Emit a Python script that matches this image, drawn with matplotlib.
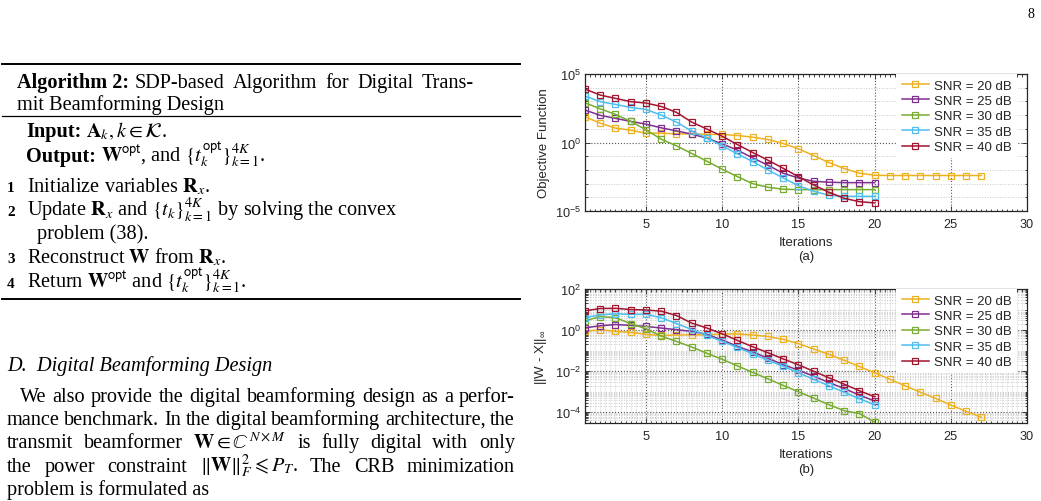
import numpy as np
import matplotlib
matplotlib.use('Agg')
import matplotlib.pyplot as plt
from matplotlib.ticker import FixedLocator, NullFormatter, MultipleLocator, LogFormatterSciNotation

W, H = 1041, 502

plt.rcParams['font.family'] = 'Liberation Sans'
plt.rcParams['mathtext.fontset'] = 'custom'
plt.rcParams['mathtext.rm'] = 'Liberation Sans'
plt.rcParams['mathtext.it'] = 'Liberation Sans:italic'
plt.rcParams['mathtext.bf'] = 'Liberation Sans:bold'

# ---- data (stored as log10) ----
iters_long = list(range(1, 28))
iters = list(range(1, 21))
snr_labels = ['SNR = 20 dB', 'SNR = 25 dB', 'SNR = 30 dB', 'SNR = 35 dB', 'SNR = 40 dB']
colors = ['#EDB120', '#7E2F8E', '#77AC30', '#4DBEEE', '#A2142F']

# (a) objective function
obj_snr20 = [1.88, 1.41, 1.05, 0.90, 0.68, 0.68, 0.63, 0.63, 0.59, 0.59, 0.51, 0.39, 0.22, -0.07,
             -0.46, -0.95, -1.46, -1.90, -2.24, -2.39, -2.41, -2.41, -2.41, -2.41, -2.41, -2.41, -2.41]
obj_snr25 = [2.37, 1.98, 1.76, 1.54, 1.34, 1.07, 0.85, 0.61, 0.32, -0.10, -0.56, -1.12, -1.66, -2.24,
             -2.59, -2.83, -2.90, -2.93, -2.93, -2.93]
obj_snr30 = [2.90, 2.46, 2.05, 1.54, 0.93, 0.24, -0.24, -0.80, -1.37, -1.95, -2.49, -3.00, -3.27, -3.41,
             -3.44, -3.44, -3.44, -3.44, -3.44, -3.44]
obj_snr35 = [3.39, 2.98, 2.78, 2.56, 2.41, 2.00, 1.49, 0.83, 0.32, -0.24, -0.83, -1.39, -2.00, -2.59,
             -3.15, -3.56, -3.85, -3.93, -3.93, -3.93]
obj_snr40 = [3.90, 3.46, 3.22, 2.98, 2.88, 2.63, 2.20, 1.49, 0.98, 0.46, -0.15, -0.73, -1.29, -1.88,
             -2.49, -3.10, -3.63, -4.07, -4.32, -4.41]

# (b) ||W - X||_inf
wx_snr20 = [-0.06, 0.02, -0.06, -0.11, -0.21, -0.26, -0.24, -0.23, -0.24, -0.19, -0.19, -0.24, -0.31, -0.45,
            -0.66, -0.92, -1.18, -1.47, -1.77, -2.08, -2.39, -2.71, -3.02, -3.32, -3.65, -3.95, -4.24]
wx_snr25 = [0.11, 0.21, 0.27, 0.23, 0.18, 0.10, 0.02, -0.06, -0.21, -0.48, -0.79, -1.06, -1.37, -1.68,
            -1.95, -2.24, -2.55, -2.84, -3.16, -3.45]
wx_snr30 = [0.45, 0.66, 0.60, 0.32, 0.06, -0.29, -0.55, -0.82, -1.13, -1.42, -1.74, -2.06, -2.37, -2.69,
            -3.00, -3.31, -3.63, -3.92, -4.06, -4.47]
wx_snr35 = [0.61, 0.74, 0.79, 0.77, 0.77, 0.60, 0.32, 0.03, -0.26, -0.55, -0.84, -1.16, -1.47, -1.76,
            -2.08, -2.39, -2.71, -3.02, -3.34, -3.63]
wx_snr40 = [0.94, 1.05, 1.06, 1.00, 0.98, 0.92, 0.71, 0.34, 0.10, -0.18, -0.50, -0.81, -1.10, -1.40,
            -1.69, -2.00, -2.32, -2.63, -2.95, -3.24]

xticks = [5, 10, 15, 20, 25, 30]

fig = plt.figure(figsize=(W / 100, H / 100), dpi=100)
fig.patch.set_facecolor('white')
dark = '#262626'


def px(x, y):
    return x / W, 1 - y / H


def draw_panel(rect, series, ylim, major, minor, ylabel, ylab_x, caption, cap_y, xgrid_minor):
    ax = fig.add_axes(rect)
    xs_list = [iters_long, iters, iters, iters, iters]
    for xs, ys, c, lab in zip(xs_list, series, colors, snr_labels):
        ax.plot(xs, 10.0 ** np.array(ys), color=c, lw=1.1, marker='s', ms=3.9,
                mfc='none', mew=0.9, label=lab)
    ax.set_yscale('log')
    ax.set_xlim(1, 30)
    ax.set_ylim(*ylim)
    ax.xaxis.set_major_locator(FixedLocator(xticks))
    ax.xaxis.set_minor_locator(MultipleLocator(1 / 3))
    ax.yaxis.set_major_locator(FixedLocator(major))
    ax.yaxis.set_major_formatter(LogFormatterSciNotation())
    ax.yaxis.set_minor_locator(FixedLocator(minor))
    ax.yaxis.set_minor_formatter(NullFormatter())
    ax.tick_params(which='both', direction='in', top=True, right=True, colors=dark,
                   labelsize=9.2, width=0.6)
    ax.tick_params(which='major', length=3.5)
    ax.tick_params(which='minor', length=1.8)
    ax.tick_params(axis='x', pad=5)
    ax.tick_params(axis='y', pad=3)
    for s in ax.spines.values():
        s.set_color(dark)
        s.set_linewidth(0.9)
    ax.grid(True, which='major', ls=':', lw=0.8, color='#555555')
    ax.grid(True, which='minor', axis='y', ls=':', lw=0.7, color='#c8c8c8')
    if xgrid_minor:
        ax.grid(True, which='minor', axis='x', ls='-', lw=0.5, color='#e4e4e4')
    ax.set_axisbelow(True)
    ax.set_xlabel('Iterations', fontsize=9.5, color=dark)
    ax.set_ylabel(ylabel, fontsize=9.5, color=dark)
    ax.xaxis.set_label_coords(0.5, -25.5 / (rect[3] * H))
    ax.yaxis.set_label_coords(ylab_x, 0.5)
    leg = ax.legend(loc='upper right', bbox_to_anchor=(1 - 10 / 442, 1), borderaxespad=0,
                    fontsize=9.5, frameon=True, fancybox=False, handlelength=2.05,
                    handletextpad=0.4, labelspacing=0.24, borderpad=0.4)
    leg.get_frame().set_edgecolor('none')
    leg.get_frame().set_facecolor('white')
    leg.get_frame().set_alpha(1)
    for t in leg.get_texts():
        t.set_color(dark)
    fig.text(*px(806, cap_y), caption, ha='center', va='center', fontsize=9.5, color=dark)
    return ax


a_minor = [10.0 ** k for k in range(-4, 5) if k != 0]
draw_panel([585 / W, 1 - 212 / H, 442 / W, 137 / H],
           [obj_snr20, obj_snr25, obj_snr30, obj_snr35, obj_snr40],
           (1e-5, 1e5), [1e-5, 1e0, 1e5], a_minor, 'Objective Function', -0.080, '(a)', 257, False)

b_minor = [m * 10.0 ** k for k in range(-5, 2) for m in range(1, 10)
           if not (m == 1 and k % 2 == 0)]
draw_panel([585 / W, 1 - 424 / H, 442 / W, 134 / H],
           [wx_snr20, wx_snr25, wx_snr30, wx_snr35, wx_snr40],
           (10 ** -4.52, 1e2), [1e-4, 1e-2, 1e0, 1e2], b_minor,
           r'||W - X||$_\infty$', -0.082, '(b)', 470, True)

# ---- left column text ----
FS = 14.6
serif = dict(family='Liberation Serif', fontsize=FS, math_fontfamily='stix', color='black')
renderer = fig.canvas.get_renderer()


def put(x, y, s, **kw):
    opts = dict(serif)
    opts.update(kw)
    return fig.text(*px(x, y), s, ha='left', va='baseline', **opts)


def justify(x0, x1, y, words):
    texts = [put(x0, y, w) for w in words]
    widths = [t.get_window_extent(renderer).width for t in texts]
    gap = (x1 - x0 - sum(widths)) / (len(words) - 1)
    x = x0
    for t, w in zip(texts, widths):
        t.set_x(x / W)
        x += w + gap


def put_run(x, y, head, rest, gap=5):
    t = put(x, y, head, weight='bold')
    x += t.get_window_extent(renderer).width + gap
    put(x, y, rest)
    return x


fig.text(*px(1034, 18), '8', ha='right', va='baseline', family='Liberation Serif', fontsize=10)

fig.add_artist(plt.Line2D([2 / W, 520 / W], [1 - 65 / H] * 2, color='black', lw=1.4))
fig.add_artist(plt.Line2D([2 / W, 520 / W], [1 - 117 / H] * 2, color='black', lw=0.9))
fig.add_artist(plt.Line2D([2 / W, 520 / W], [1 - 300 / H] * 2, color='black', lw=1.4))

head = put(17, 88, 'Algorithm 2:', weight='bold')
x_rest = 17 + head.get_window_extent(renderer).width + 6
justify(x_rest, 474, 88, ['SDP-based', 'Algorithm', 'for', 'Digital', 'Trans-'])
put(17, 110, 'mit Beamforming Design')
put_run(26, 137, 'Input:', r'$\mathbf{A}_k, k \in \mathcal{K}$.')
put_run(26, 162, 'Output:',
        r'$\mathbf{W}^{\mathrm{\mathsf{opt}}}$, and $\{t_k^{\mathrm{\mathsf{opt}}}\}_{k=1}^{4K}$.')

steps = [
    ('1', 192, 27, r'Initialize variables $\mathbf{R}_x$.'),
    ('2', 216, 27, r'Update $\mathbf{R}_x$ and $\{t_k\}_{k=1}^{4K}$ by solving the convex'),
    ('', 239, 37, 'problem (38).'),
    ('3', 263, 27, r'Reconstruct $\mathbf{W}$ from $\mathbf{R}_x$.'),
    ('4', 288, 27, r'Return $\mathbf{W}^{\mathrm{\mathsf{opt}}}$ and $\{t_k^{\mathrm{\mathsf{opt}}}\}_{k=1}^{4K}$.'),
]
for num, y, x, s in steps:
    if num:
        put(7, y, num, fontsize=11, weight='bold')
    put(x, y, s)

put(7, 371, 'D.  Digital Beamforming Design', style='italic')

para = [
    (20, ['We', 'also', 'provide', 'the', 'digital', 'beamforming', 'design', 'as', 'a', 'perfor-']),
    (7, ['mance', 'benchmark.', 'In', 'the', 'digital', 'beamforming', 'architecture,', 'the']),
    (7, ['transmit', 'beamformer', r'$\mathbf{W} \in \mathbb{C}^{N\times M}$', 'is', 'fully',
         'digital', 'with', 'only']),
    (7, ['the', 'power', 'constraint', r'$\Vert\mathbf{W}\Vert_F^2 \leqslant P_T$.', 'The', 'CRB',
         'minimization']),
]
para_y = [402, 425, 448, 472]
for (x0, words), y in zip(para, para_y):
    justify(x0, 515, y, words)
put(7, 495, 'problem is formulated as')

fig.savefig('out.png', dpi=100)
